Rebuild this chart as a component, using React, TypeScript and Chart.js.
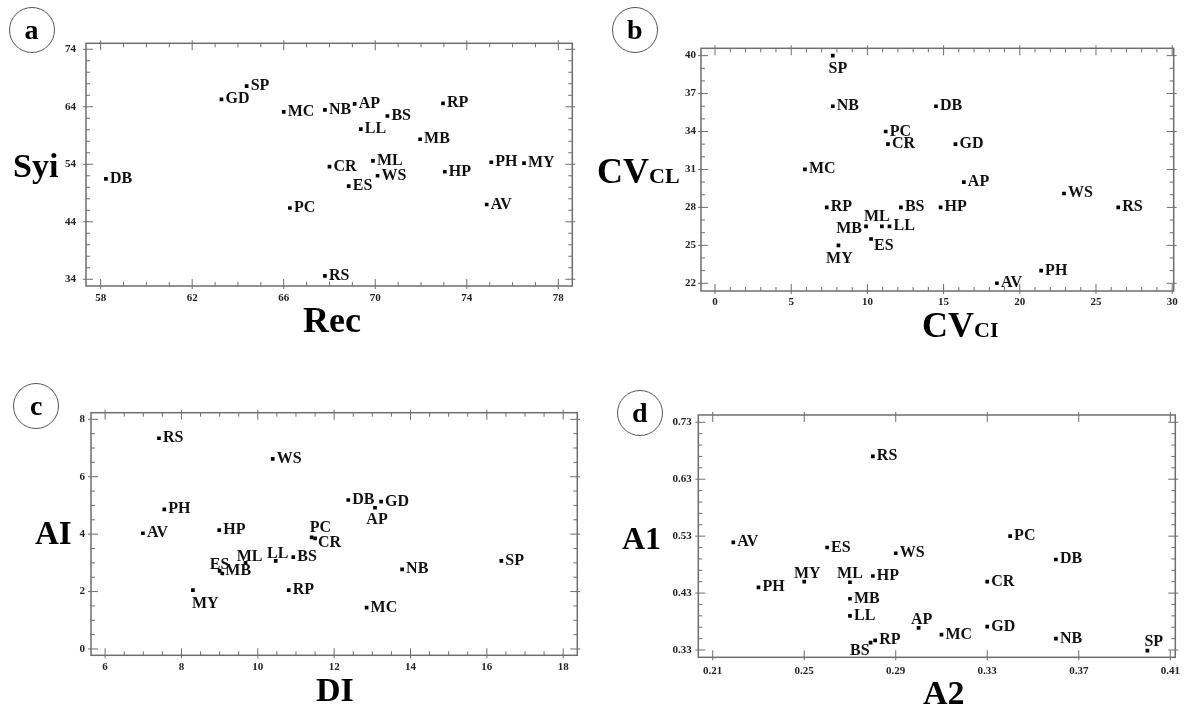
import React, { useEffect, useRef } from 'react';
import { Chart, registerables } from 'chart.js';

Chart.register(...registerables);

// ---------- DATA ----------
const codes = ['AP', 'AV', 'BS', 'CR', 'DB', 'ES', 'GD', 'HP', 'LL', 'MB', 'MC', 'ML', 'MY', 'NB', 'PC', 'PH', 'RP', 'RS', 'SP', 'WS'];

// panel a : Rec (x) vs Syi (y)
const recA = [69.1, 74.87, 70.53, 68.0, 58.23, 68.84, 63.28, 73.04, 69.37, 71.96, 66.0, 69.9, 76.5, 67.8, 66.27, 75.07, 72.96, 67.8, 64.38, 70.1];
const syiA = [64.5, 47.0, 62.4, 53.6, 51.45, 50.2, 65.3, 52.7, 60.1, 58.35, 63.1, 54.6, 54.2, 63.45, 46.4, 54.35, 64.6, 34.6, 67.6, 52.0];

// panel b : CVCI (x) vs CVCL (y)
const cvciB = [16.33, 18.5, 12.2, 11.35, 14.5, 10.24, 15.78, 14.8, 11.45, 9.91, 5.9, 10.95, 8.1, 7.73, 11.2, 21.4, 7.33, 26.46, 7.73, 22.9];
const cvclB = [30, 22, 28, 33, 36, 25.5, 33, 28, 26.5, 26.5, 31, 26.5, 25, 36, 34, 23, 28, 28, 40, 29.1];

// panel c : DI (x) vs AI (y)
const diC = [13.07, 6.99, 10.93, 11.5, 12.37, 9.0, 13.23, 8.99, 10.47, 9.07, 12.85, 9.68, 8.3, 13.78, 11.41, 7.55, 10.81, 7.41, 16.38, 10.39];
const aiC = [4.92, 4.03, 3.2, 3.85, 5.19, 2.72, 5.13, 4.14, 3.07, 2.63, 1.44, 3.0, 2.05, 2.77, 3.89, 4.86, 2.05, 7.34, 3.07, 6.62];

// panel d : A2 (x) vs A1 (y)
const a2D = [0.300, 0.219, 0.279, 0.330, 0.360, 0.260, 0.330, 0.280, 0.270, 0.270, 0.310, 0.270, 0.250, 0.360, 0.340, 0.230, 0.281, 0.280, 0.400, 0.290];
const a1D = [0.369, 0.519, 0.343, 0.450, 0.489, 0.510, 0.371, 0.460, 0.390, 0.420, 0.357, 0.449, 0.450, 0.350, 0.530, 0.440, 0.347, 0.670, 0.329, 0.500];

// tick labels
const ticksAX = [58, 62, 66, 70, 74, 78];
const ticksAY = [34, 44, 54, 64, 74];
const ticksBX = [0, 5, 10, 15, 20, 25, 30];
const ticksBY = [22, 25, 28, 31, 34, 37, 40];
const ticksCX = [6, 8, 10, 12, 14, 16, 18];
const ticksCY = [0, 2, 4, 6, 8];
const ticksDX = [0.21, 0.25, 0.29, 0.33, 0.37, 0.41];
const ticksDY = [0.33, 0.43, 0.53, 0.63, 0.73];

// ---------- LAYOUT / STYLE ----------
const FONT = "'Liberation Serif', 'Times New Roman', serif";
type Off = { dx: number; dy: number; align: CanvasTextAlign };
const DEF: Off = { dx: 4, dy: 4, align: 'left' };

type TitlePart = { t: string; size: number };
type PanelCfg = {
  letter: string;
  circle: [number, number];
  xs: number[]; ys: number[];
  xTicks: number[]; yTicks: number[];
  xr: [number, number]; yr: [number, number];
  xMinor: number; yMinor: number; decimals: number;
  box: [number, number, number, number];
  canvas: [number, number, number, number];
  yPad: number; xPad: number;
  offsets: Record<string, Off>;
  yTitle: { parts: TitlePart[]; left: number; base: number };
  xTitle: { parts: TitlePart[]; left: number; base: number };
};

const panels: PanelCfg[] = [
  {
    letter: 'a', circle: [31.5, 30],
    xs: recA, ys: syiA, xTicks: ticksAX, yTicks: ticksAY,
    xr: [57.36, 78.61], yr: [32.83, 75.04], xMinor: 1, yMinor: 2, decimals: 0,
    box: [86, 43.3, 572.3, 286], canvas: [0, 0, 590, 345], yPad: 10, xPad: 6,
    offsets: {},
    yTitle: { parts: [{ t: 'Syi', size: 34 }], left: 13, base: 177 },
    xTitle: { parts: [{ t: 'Rec', size: 36 }], left: 303, base: 332 },
  },
  {
    letter: 'b', circle: [634.7, 30.3],
    xs: cvciB, ys: cvclB, xTicks: ticksBX, yTicks: ticksBY,
    xr: [-0.92, 30.1], yr: [21.39, 40.58], xMinor: 1, yMinor: 1, decimals: 0,
    box: [701, 48.3, 1173.7, 291], canvas: [590, 0, 594, 345], yPad: 5, xPad: 5,
    offsets: {
      SP: { dx: 5, dy: 17, align: 'center' },
      MY: { dx: 1, dy: 18, align: 'center' },
      MB: { dx: -4, dy: 7, align: 'right' },
      ML: { dx: -18, dy: -5, align: 'left' },
      ES: { dx: 3, dy: 11, align: 'left' },
    },
    yTitle: { parts: [{ t: 'CV', size: 36 }, { t: 'CL', size: 22 }], left: 597, base: 182.7 },
    xTitle: { parts: [{ t: 'CV', size: 36 }, { t: 'CI', size: 22 }], left: 922, base: 336.7 },
  },
  {
    letter: 'c', circle: [36.3, 405.5],
    xs: diC, ys: aiC, xTicks: ticksCX, yTicks: ticksCY,
    xr: [5.63, 18.37], yr: [-0.22, 8.23], xMinor: 0.5, yMinor: 0.5, decimals: 0,
    box: [91, 412.7, 577.3, 655.3], canvas: [0, 350, 590, 358], yPad: 6, xPad: 5,
    offsets: {
      ML: { dx: 4, dy: -2, align: 'center' },
      LL: { dx: 2, dy: -2.5, align: 'center' },
      ES: { dx: 0, dy: -2, align: 'center' },
      MB: { dx: 3, dy: 2, align: 'left' },
      MY: { dx: -1, dy: 18, align: 'left' },
      PC: { dx: -2, dy: -5, align: 'left' },
      CR: { dx: 3, dy: 9, align: 'left' },
      AP: { dx: 2, dy: 16, align: 'center' },
    },
    yTitle: { parts: [{ t: 'AI', size: 33 }], left: 35, base: 545 },
    xTitle: { parts: [{ t: 'DI', size: 34 }], left: 316, base: 701 },
  },
  {
    letter: 'd', circle: [639.7, 413],
    xs: a2D, ys: a1D, xTicks: ticksDX, yTicks: ticksDY,
    xr: [0.2037, 0.4122], yr: [0.3172, 0.7428], xMinor: 0, yMinor: 0.02, decimals: 2,
    box: [698.3, 415, 1175.3, 657.3], canvas: [590, 350, 594, 358], yPad: 6.5, xPad: 7,
    offsets: {
      MY: { dx: 3, dy: -3.5, align: 'center' },
      ML: { dx: 0, dy: -4, align: 'center' },
      AP: { dx: 3, dy: -4, align: 'center' },
      SP: { dx: -3, dy: -5, align: 'left' },
      BS: { dx: -1, dy: 12, align: 'right' },
    },
    yTitle: { parts: [{ t: 'A1', size: 32 }], left: 622, base: 549 },
    xTitle: { parts: [{ t: 'A2', size: 34 }], left: 923, base: 704 },
  },
];

const Y_AXIS_W = 40;
const X_AXIS_H = 25;
const FRAME = '#6e6e6e';

function minorValues(anchor: number, step: number, min: number, max: number, majors: number[]) {
  const out: number[] = [];
  if (!step) return out;
  const kMin = Math.ceil((min - anchor) / step - 1e-9);
  const kMax = Math.floor((max - anchor) / step + 1e-9);
  for (let k = kMin; k <= kMax; k++) {
    const v = anchor + k * step;
    if (!majors.some((m) => Math.abs(m - v) < step * 1e-3)) out.push(v);
  }
  return out;
}

function Panel({ cfg }: { cfg: PanelCfg }) {
  const ref = useRef<HTMLCanvasElement | null>(null);

  useEffect(() => {
    const canvas = ref.current;
    if (!canvas) return;
    const [bl, bt, br, bb] = cfg.box;
    const [cl, ct, cw, ch] = cfg.canvas;

    const framePlugin = {
      id: 'frameTicks',
      beforeDatasetsDraw(chart: any) {
        const { ctx, chartArea: a } = chart;
        const sx = chart.scales.x;
        const sy = chart.scales.y;
        ctx.save();
        ctx.strokeStyle = FRAME;
        ctx.lineWidth = 1;
        const seg = (x1: number, y1: number, x2: number, y2: number) => {
          ctx.beginPath();
          ctx.moveTo(x1, y1);
          ctx.lineTo(x2, y2);
          ctx.stroke();
        };
        const xTick = (v: number, inL: number, outL: number) => {
          const p = sx.getPixelForValue(v);
          seg(p, a.bottom + outL, p, a.bottom - inL);
          seg(p, a.top - outL, p, a.top + inL);
        };
        const yTick = (v: number, inL: number, outL: number) => {
          const p = sy.getPixelForValue(v);
          seg(a.left - outL, p, a.left + inL, p);
          seg(a.right + outL, p, a.right - inL, p);
        };
        cfg.xTicks.forEach((v) => xTick(v, 7, 3));
        cfg.yTicks.forEach((v) => yTick(v, 7, 3));
        minorValues(cfg.xTicks[0], cfg.xMinor, cfg.xr[0], cfg.xr[1], cfg.xTicks).forEach((v) => xTick(v, 4, 0));
        minorValues(cfg.yTicks[0], cfg.yMinor, cfg.yr[0], cfg.yr[1], cfg.yTicks).forEach((v) => yTick(v, 4, 0));
        ctx.lineWidth = 1.5;
        ctx.strokeRect(a.left, a.top, a.right - a.left, a.bottom - a.top);
        ctx.restore();
      },
    };

    const labelPlugin = {
      id: 'pointNames',
      afterDatasetsDraw(chart: any) {
        const ctx = chart.ctx;
        const meta = chart.getDatasetMeta(0);
        ctx.save();
        ctx.font = `bold 16px ${FONT}`;
        ctx.fillStyle = '#111';
        ctx.textBaseline = 'alphabetic';
        meta.data.forEach((pt: any, i: number) => {
          const name = codes[i];
          const o = cfg.offsets[name] || DEF;
          ctx.textAlign = o.align;
          ctx.fillText(name, pt.x + o.dx, pt.y + o.dy);
        });
        ctx.restore();
      },
    };

    const tickFont = { family: FONT, size: 11, weight: 'bold' as const };
    const fmt = (v: any) => (cfg.decimals ? Number(v).toFixed(cfg.decimals) : String(Math.round(Number(v))));

    const chart = new Chart(canvas, {
      type: 'scatter',
      data: {
        datasets: [
          {
            data: cfg.xs.map((x, i) => ({ x, y: cfg.ys[i] })),
            pointStyle: 'rect',
            pointRadius: 2.6,
            pointHoverRadius: 2.6,
            backgroundColor: '#000',
            borderColor: '#000',
            borderWidth: 0,
          },
        ],
      },
      options: {
        animation: false,
        responsive: false,
        maintainAspectRatio: false,
        events: [],
        layout: {
          padding: {
            left: bl - cl - Y_AXIS_W,
            top: bt - ct,
            right: cl + cw - br,
            bottom: ct + ch - bb - X_AXIS_H,
          },
        },
        plugins: { legend: { display: false }, tooltip: { enabled: false } },
        scales: {
          x: {
            type: 'linear',
            min: cfg.xr[0],
            max: cfg.xr[1],
            grid: { display: false, drawTicks: false },
            border: { display: false },
            ticks: { font: tickFont, color: '#222', padding: cfg.xPad, autoSkip: false, maxRotation: 0, callback: fmt },
            afterBuildTicks: (s: any) => {
              s.ticks = cfg.xTicks.map((v) => ({ value: v }));
            },
            afterFit: (s: any) => {
              s.height = X_AXIS_H;
              s.paddingLeft = 0; s.paddingRight = 0; s.paddingTop = 0; s.paddingBottom = 0;
            },
          },
          y: {
            type: 'linear',
            min: cfg.yr[0],
            max: cfg.yr[1],
            grid: { display: false, drawTicks: false },
            border: { display: false },
            ticks: { font: tickFont, color: '#222', padding: cfg.yPad, autoSkip: false, callback: fmt },
            afterBuildTicks: (s: any) => {
              s.ticks = cfg.yTicks.map((v) => ({ value: v }));
            },
            afterFit: (s: any) => {
              s.width = Y_AXIS_W;
              s.paddingLeft = 0; s.paddingRight = 0; s.paddingTop = 0; s.paddingBottom = 0;
            },
          },
        },
      } as any,
      plugins: [framePlugin, labelPlugin],
    });
    return () => chart.destroy();
  }, [cfg]);

  const [cl, ct, cw, ch] = cfg.canvas;
  const R = 23;
  const title = (tt: { parts: TitlePart[]; left: number; base: number }, key: string) => {
    const main = tt.parts[0].size;
    return (
      <div
        key={key}
        style={{
          position: 'absolute',
          left: tt.left,
          top: tt.base - 0.8375 * main,
          fontFamily: FONT,
          fontWeight: 'bold',
          fontSize: main,
          lineHeight: 1,
          whiteSpace: 'nowrap',
          color: '#000',
        }}
      >
        {tt.parts.map((p, i) => (
          <span key={i} style={{ fontSize: p.size }}>{p.t}</span>
        ))}
      </div>
    );
  };

  return (
    <>
      <canvas
        ref={ref}
        width={cw}
        height={ch}
        style={{ position: 'absolute', left: cl, top: ct, width: cw, height: ch }}
      />
      <div
        style={{
          position: 'absolute',
          left: cfg.circle[0] - R,
          top: cfg.circle[1] - R,
          width: 2 * R,
          height: 2 * R,
          boxSizing: 'border-box',
          border: '1px solid #555',
          borderRadius: '50%',
          display: 'flex',
          alignItems: 'center',
          justifyContent: 'center',
          fontFamily: FONT,
          fontWeight: 'bold',
          fontSize: 28,
          color: '#000',
          background: 'transparent',
        }}
      >
        {cfg.letter}
      </div>
      {title(cfg.yTitle, 'yt')}
      {title(cfg.xTitle, 'xt')}
    </>
  );
}

export default function App() {
  return (
    <div
      style={{
        position: 'fixed',
        left: 0,
        top: 0,
        width: 1184,
        height: 708,
        background: '#fff',
        overflow: 'hidden',
      }}
    >
      {panels.map((p) => (
        <Panel key={p.letter} cfg={p} />
      ))}
    </div>
  );
}
